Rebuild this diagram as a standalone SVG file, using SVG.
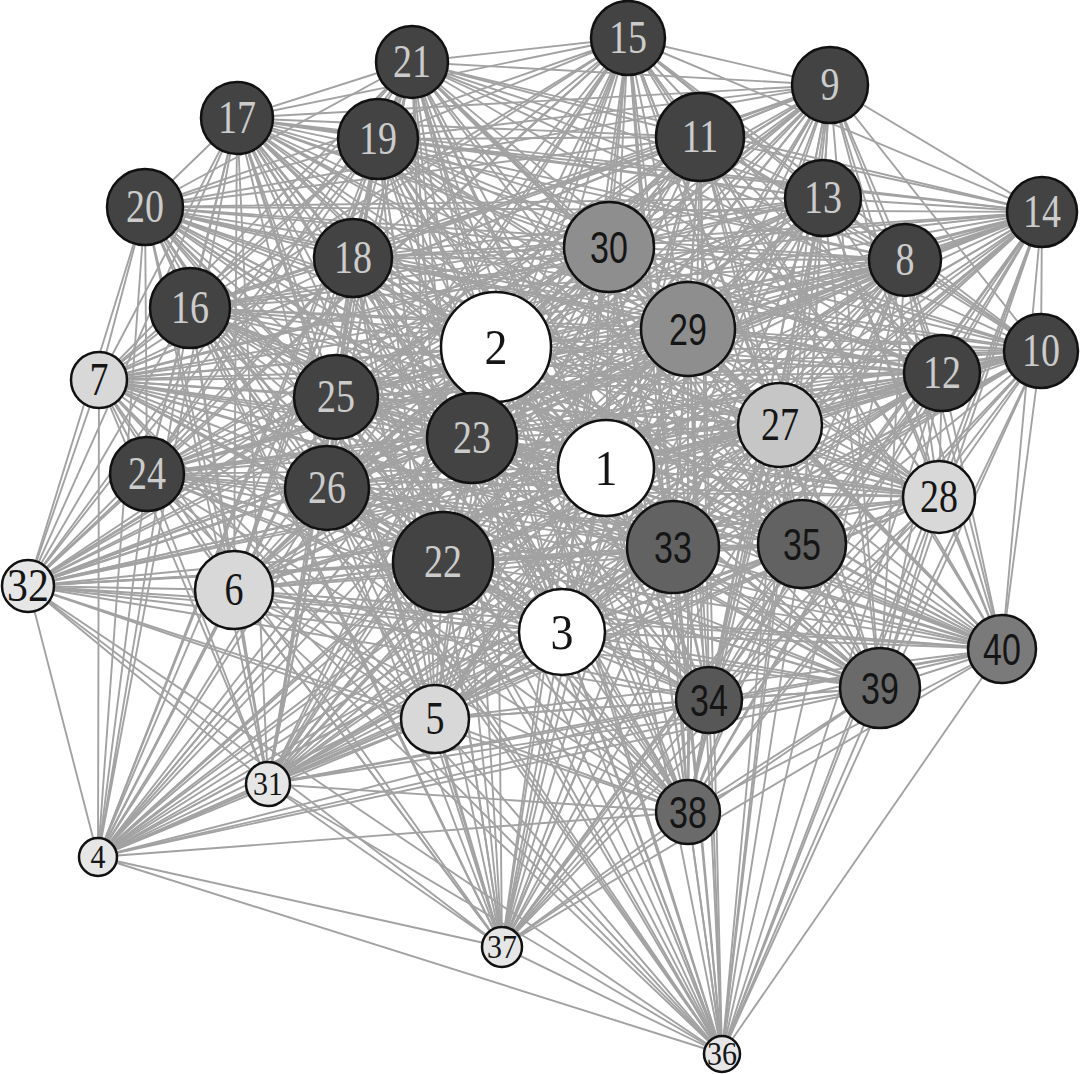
<svg xmlns="http://www.w3.org/2000/svg" width="1082" height="1074" viewBox="0 0 1082 1074">
<style>
.e polyline{fill:none;stroke:#a2a2a2;stroke-width:1.9;stroke-linejoin:round}
circle{stroke:#111;stroke-width:2.5}
text{text-anchor:middle}
.s{font-family:"Liberation Serif","Times New Roman",serif;font-size:38px}
.b{font-family:"Liberation Serif","Times New Roman",serif;font-size:46px}
.t{font-family:"Liberation Serif","Times New Roman",serif;font-size:30px}
.a{font-family:"Liberation Sans",Arial,sans-serif;font-size:34px}
.lt{fill:#cccccc}
.dk{fill:#151515}
.w{fill:#ffffff}
.l1{fill:#d8d8d8}
.l2{fill:#e6e6e6}
.l3{fill:#c6c6c6}
.m1{fill:#8e8e8e}
.m2{fill:#626262}
.m3{fill:#575757}
.m4{fill:#6a6a6a}
.m5{fill:#7a7a7a}
.d{fill:#434343}
</style>
<rect width="1082" height="1074" fill="#ffffff"/>
<g id="edges" class="e">
<polyline points="606,468 496,347 1002,649 562,632 880,688 98,857 688,812 435,719 502,947 234,590 722,1054 99,380 802,544 905,260 709,700 830,85 673,547 1041,351 28,586 700,137 268,784 942,373 609,247 823,198 688,329 1042,212 939,497 628,38 780,425 190,308 327,488 237,118 336,397 353,258 147,474 378,139 472,438 145,207 443,562 412,62"/>
<polyline points="496,347 562,632 606,468 98,857 1002,649 435,719 880,688 234,590 688,812 99,380 502,947 905,260 722,1054 830,85 802,544 1041,351 709,700 700,137 673,547 942,373 28,586 823,198 268,784 1042,212 609,247 628,38 688,329 190,308 939,497 237,118 780,425 353,258 327,488 378,139 336,397 145,207 147,474 412,62 472,438 443,562"/>
<polyline points="562,632 98,857 496,347 435,719 606,468 234,590 1002,649 99,380 880,688 905,260 688,812 830,85 502,947 1041,351 722,1054 700,137 802,544 942,373 709,700 823,198 673,547 1042,212 28,586 628,38 268,784 190,308 609,247 237,118 688,329 353,258 939,497 378,139 780,425 145,207 327,488 412,62 336,397 443,562 147,474 472,438"/>
<polyline points="98,857 435,719 562,632 234,590 496,347 99,380 606,468 905,260 1002,649 830,85 880,688 1041,351 688,812 700,137 502,947 942,373 722,1054 823,198 802,544 1042,212 709,700 628,38 673,547 190,308 28,586 237,118 268,784 353,258 609,247 378,139 688,329 145,207 939,497 412,62 780,425 443,562 327,488 472,438 336,397 147,474"/>
<polyline points="435,719 234,590 98,857 99,380 562,632 905,260 496,347 830,85 606,468 1041,351 1002,649 700,137 880,688 942,373 688,812 823,198 502,947 1042,212 722,1054 628,38 802,544 190,308 709,700 237,118 673,547 353,258 28,586 378,139 268,784 145,207 609,247 412,62 688,329 443,562 939,497 472,438 780,425 147,474 327,488 336,397"/>
<polyline points="234,590 99,380 435,719 905,260 98,857 830,85 562,632 1041,351 496,347 700,137 606,468 942,373 1002,649 823,198 880,688 1042,212 688,812 628,38 502,947 190,308 722,1054 237,118 802,544 353,258 709,700 378,139 673,547 145,207 28,586 412,62 268,784 443,562 609,247 472,438 688,329 147,474 939,497 336,397 780,425 327,488"/>
<polyline points="99,380 905,260 234,590 830,85 435,719 1041,351 98,857 700,137 562,632 942,373 496,347 823,198 606,468 1042,212 1002,649 628,38 880,688 190,308 688,812 237,118 502,947 353,258 722,1054 378,139 802,544 145,207 709,700 412,62 673,547 443,562 28,586 472,438 268,784 147,474 609,247 336,397 688,329 327,488 939,497 780,425"/>
<polyline points="905,260 830,85 99,380 1041,351 234,590 700,137 435,719 942,373 98,857 823,198 562,632 1042,212 496,347 628,38 606,468 190,308 1002,649 237,118 880,688 353,258 688,812 378,139 502,947 145,207 722,1054 412,62 802,544 443,562 709,700 472,438 673,547 147,474 28,586 336,397 268,784 327,488 609,247 780,425 688,329 939,497"/>
<polyline points="830,85 1041,351 905,260 700,137 99,380 942,373 234,590 823,198 435,719 1042,212 98,857 628,38 562,632 190,308 496,347 237,118 606,468 353,258 1002,649 378,139 880,688 145,207 688,812 412,62 502,947 443,562 722,1054 472,438 802,544 147,474 709,700 336,397 673,547 327,488 28,586 780,425 268,784 939,497 609,247 688,329"/>
<polyline points="1041,351 700,137 830,85 942,373 905,260 823,198 99,380 1042,212 234,590 628,38 435,719 190,308 98,857 237,118 562,632 353,258 496,347 378,139 606,468 145,207 1002,649 412,62 880,688 443,562 688,812 472,438 502,947 147,474 722,1054 336,397 802,544 327,488 709,700 780,425 673,547 939,497 28,586 688,329 268,784 609,247"/>
<polyline points="700,137 942,373 1041,351 823,198 830,85 1042,212 905,260 628,38 99,380 190,308 234,590 237,118 435,719 353,258 98,857 378,139 562,632 145,207 496,347 412,62 606,468 443,562 1002,649 472,438 880,688 147,474 688,812 336,397 502,947 327,488 722,1054 780,425 802,544 939,497 709,700 688,329 673,547 609,247 28,586 268,784"/>
<polyline points="942,373 823,198 700,137 1042,212 1041,351 628,38 830,85 190,308 905,260 237,118 99,380 353,258 234,590 378,139 435,719 145,207 98,857 412,62 562,632 443,562 496,347 472,438 606,468 147,474 1002,649 336,397 880,688 327,488 688,812 780,425 502,947 939,497 722,1054 688,329 802,544 609,247 709,700 268,784 673,547 28,586"/>
<polyline points="823,198 1042,212 942,373 628,38 700,137 190,308 1041,351 237,118 830,85 353,258 905,260 378,139 99,380 145,207 234,590 412,62 435,719 443,562 98,857 472,438 562,632 147,474 496,347 336,397 606,468 327,488 1002,649 780,425 880,688 939,497 688,812 688,329 502,947 609,247 722,1054 268,784 802,544 28,586 709,700 673,547"/>
<polyline points="1042,212 628,38 823,198 190,308 942,373 237,118 700,137 353,258 1041,351 378,139 830,85 145,207 905,260 412,62 99,380 443,562 234,590 472,438 435,719 147,474 98,857 336,397 562,632 327,488 496,347 780,425 606,468 939,497 1002,649 688,329 880,688 609,247 688,812 268,784 502,947 28,586 722,1054 673,547 802,544 709,700"/>
<polyline points="628,38 190,308 1042,212 237,118 823,198 353,258 942,373 378,139 700,137 145,207 1041,351 412,62 830,85 443,562 905,260 472,438 99,380 147,474 234,590 336,397 435,719 327,488 98,857 780,425 562,632 939,497 496,347 688,329 606,468 609,247 1002,649 268,784 880,688 28,586 688,812 673,547 502,947 709,700 722,1054 802,544"/>
<polyline points="190,308 237,118 628,38 353,258 1042,212 378,139 823,198 145,207 942,373 412,62 700,137 443,562 1041,351 472,438 830,85 147,474 905,260 336,397 99,380 327,488 234,590 780,425 435,719 939,497 98,857 688,329 562,632 609,247 496,347 268,784 606,468 28,586 1002,649 673,547 880,688 709,700 688,812 802,544 502,947 722,1054"/>
<polyline points="237,118 353,258 190,308 378,139 628,38 145,207 1042,212 412,62 823,198 443,562 942,373 472,438 700,137 147,474 1041,351 336,397 830,85 327,488 905,260 780,425 99,380 939,497 234,590 688,329 435,719 609,247 98,857 268,784 562,632 28,586 496,347 673,547 606,468 709,700 1002,649 802,544 880,688 722,1054 688,812 502,947"/>
<polyline points="353,258 378,139 237,118 145,207 190,308 412,62 628,38 443,562 1042,212 472,438 823,198 147,474 942,373 336,397 700,137 327,488 1041,351 780,425 830,85 939,497 905,260 688,329 99,380 609,247 234,590 268,784 435,719 28,586 98,857 673,547 562,632 709,700 496,347 802,544 606,468 722,1054 1002,649 502,947 880,688 688,812"/>
<polyline points="378,139 145,207 353,258 412,62 237,118 443,562 190,308 472,438 628,38 147,474 1042,212 336,397 823,198 327,488 942,373 780,425 700,137 939,497 1041,351 688,329 830,85 609,247 905,260 268,784 99,380 28,586 234,590 673,547 435,719 709,700 98,857 802,544 562,632 722,1054 496,347 502,947 606,468 688,812 1002,649 880,688"/>
<polyline points="145,207 412,62 378,139 443,562 353,258 472,438 237,118 147,474 190,308 336,397 628,38 327,488 1042,212 780,425 823,198 939,497 942,373 688,329 700,137 609,247 1041,351 268,784 830,85 28,586 905,260 673,547 99,380 709,700 234,590 802,544 435,719 722,1054 98,857 502,947 562,632 688,812 496,347 880,688 606,468 1002,649"/>
</g>
<g id="n1"><circle class="w" cx="606" cy="468" r="48"/><text class="b dk" transform="translate(606 485) scale(1 1.1)">1</text></g>
<g id="n2"><circle class="w" cx="496" cy="347" r="55"/><text class="b dk" transform="translate(496 364) scale(1 1.1)">2</text></g>
<g id="n3"><circle class="w" cx="562" cy="632" r="43"/><text class="b dk" transform="translate(562 649) scale(1 1.1)">3</text></g>
<g id="n4"><circle class="l2" cx="98" cy="857" r="19"/><text class="t dk" transform="translate(98 868) scale(1 1.15)">4</text></g>
<g id="n5"><circle class="l1" cx="435" cy="719" r="34"/><text class="s dk" transform="translate(435 734) scale(1 1.2)">5</text></g>
<g id="n6"><circle class="l1" cx="234" cy="590" r="39"/><text class="s dk" transform="translate(234 605) scale(1 1.2)">6</text></g>
<g id="n7"><circle class="l1" cx="99" cy="380" r="28"/><text class="s dk" transform="translate(99 395) scale(1 1.2)">7</text></g>
<g id="n8"><circle class="d" cx="905" cy="260" r="36"/><text class="s lt" transform="translate(905 275) scale(1 1.2)">8</text></g>
<g id="n9"><circle class="d" cx="830" cy="85" r="38"/><text class="s lt" transform="translate(830 100) scale(1 1.2)">9</text></g>
<g id="n10"><circle class="d" cx="1041" cy="351" r="37"/><text class="s lt" transform="translate(1041 366) scale(1 1.2)">10</text></g>
<g id="n11"><circle class="d" cx="700" cy="137" r="44"/><text class="s lt" transform="translate(700 152) scale(1 1.2)">11</text></g>
<g id="n12"><circle class="d" cx="942" cy="373" r="38"/><text class="s lt" transform="translate(942 388) scale(1 1.2)">12</text></g>
<g id="n13"><circle class="d" cx="823" cy="198" r="38"/><text class="s lt" transform="translate(823 213) scale(1 1.2)">13</text></g>
<g id="n14"><circle class="d" cx="1042" cy="212" r="35"/><text class="s lt" transform="translate(1042 227) scale(1 1.2)">14</text></g>
<g id="n15"><circle class="d" cx="628" cy="38" r="37"/><text class="s lt" transform="translate(628 53) scale(1 1.2)">15</text></g>
<g id="n16"><circle class="d" cx="190" cy="308" r="40"/><text class="s lt" transform="translate(190 323) scale(1 1.2)">16</text></g>
<g id="n17"><circle class="d" cx="237" cy="118" r="36"/><text class="s lt" transform="translate(237 133) scale(1 1.2)">17</text></g>
<g id="n18"><circle class="d" cx="353" cy="258" r="39"/><text class="s lt" transform="translate(353 273) scale(1 1.2)">18</text></g>
<g id="n19"><circle class="d" cx="378" cy="139" r="40"/><text class="s lt" transform="translate(378 154) scale(1 1.2)">19</text></g>
<g id="n20"><circle class="d" cx="145" cy="207" r="38"/><text class="s lt" transform="translate(145 222) scale(1 1.2)">20</text></g>
<g id="n21"><circle class="d" cx="412" cy="62" r="36"/><text class="s lt" transform="translate(412 77) scale(1 1.2)">21</text></g>
<g id="n22"><circle class="d" cx="443" cy="562" r="50"/><text class="s lt" transform="translate(443 577) scale(1 1.2)">22</text></g>
<g id="n23"><circle class="d" cx="472" cy="438" r="45"/><text class="s lt" transform="translate(472 453) scale(1 1.2)">23</text></g>
<g id="n24"><circle class="d" cx="147" cy="474" r="37"/><text class="s lt" transform="translate(147 489) scale(1 1.2)">24</text></g>
<g id="n25"><circle class="d" cx="336" cy="397" r="42"/><text class="s lt" transform="translate(336 412) scale(1 1.2)">25</text></g>
<g id="n26"><circle class="d" cx="327" cy="488" r="42"/><text class="s lt" transform="translate(327 503) scale(1 1.2)">26</text></g>
<g id="n27"><circle class="l3" cx="780" cy="425" r="42"/><text class="s dk" transform="translate(780 440) scale(1 1.2)">27</text></g>
<g id="n28"><circle class="l1" cx="939" cy="497" r="36"/><text class="s dk" transform="translate(939 512) scale(1 1.2)">28</text></g>
<g id="n29"><circle class="m1" cx="688" cy="329" r="47"/><text class="a dk" transform="translate(688 345) scale(1 1.3)">29</text></g>
<g id="n30"><circle class="m1" cx="609" cy="247" r="45"/><text class="a dk" transform="translate(609 263) scale(1 1.3)">30</text></g>
<g id="n31"><circle class="l2" cx="268" cy="784" r="22"/><text class="t dk" transform="translate(268 795) scale(1 1.15)">31</text></g>
<g id="n32"><circle class="l2" cx="28" cy="586" r="26"/><text class="s dk" transform="translate(28 601) scale(1.1 1.2)">32</text></g>
<g id="n33"><circle class="m2" cx="673" cy="547" r="46"/><text class="a dk" transform="translate(673 563) scale(1 1.3)">33</text></g>
<g id="n34"><circle class="m3" cx="709" cy="700" r="33"/><text class="a dk" transform="translate(709 716) scale(1 1.3)">34</text></g>
<g id="n35"><circle class="m2" cx="802" cy="544" r="44"/><text class="a dk" transform="translate(802 560) scale(1 1.3)">35</text></g>
<g id="n36"><circle class="l2" cx="722" cy="1054" r="18"/><text class="t dk" transform="translate(722 1065) scale(1 1.15)">36</text></g>
<g id="n37"><circle class="l2" cx="502" cy="947" r="20"/><text class="t dk" transform="translate(502 958) scale(1 1.15)">37</text></g>
<g id="n38"><circle class="m4" cx="688" cy="812" r="32"/><text class="a dk" transform="translate(688 828) scale(1 1.3)">38</text></g>
<g id="n39"><circle class="m4" cx="880" cy="688" r="40"/><text class="a dk" transform="translate(880 704) scale(1 1.3)">39</text></g>
<g id="n40"><circle class="m5" cx="1002" cy="649" r="34"/><text class="a dk" transform="translate(1002 665) scale(1 1.3)">40</text></g>
</svg>
